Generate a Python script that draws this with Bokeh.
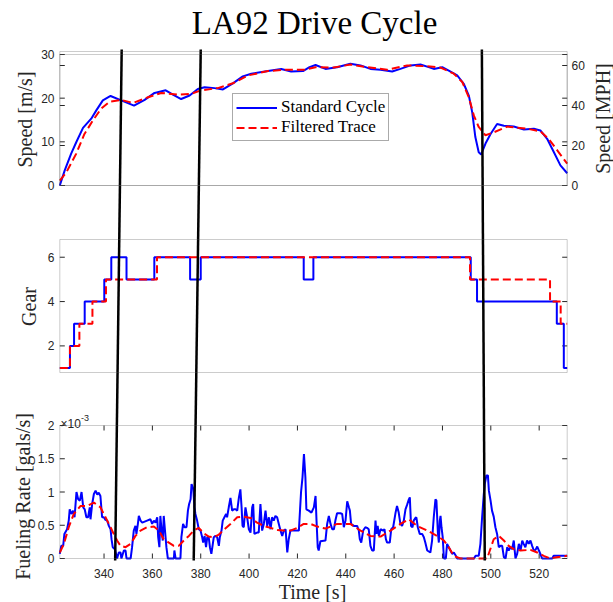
from math import pi
from bokeh.plotting import figure
from bokeh.models import Range1d, BoxAnnotation, Label, Legend, LegendItem
from bokeh.core.properties import value
from bokeh.embed import file_html
from bokeh.resources import INLINE

# ---------------- data ----------------
T0, T1 = 321.7, 531.6
time_ticks = [340, 360, 380, 400, 420, 440, 460, 480, 500, 520]

speed_t = [321.7, 323.7, 326.4, 328.5, 331.3, 334.7, 336.8, 339.5, 342.7, 347.1, 352.4, 356.8,
           360.9, 365.5, 368.5, 371.9, 375.4, 378.8, 381.6, 385.7, 389.2, 393.3, 397.4, 400.9,
           407.8, 413.3, 417.4, 422.3, 425.0, 427.5, 431.6, 436.4, 441.9, 446.1, 450.2, 454.4,
           459.2, 462.6, 466.8, 470.9, 474.3, 476.4, 479.9, 482.6, 486.1, 488.8, 490.9, 492.3,
           493.6, 495.0, 496.0, 497.8, 499.9, 502.6, 505.4, 509.5, 513.7, 517.8, 520.5, 523.3,
           526.1, 528.8, 531.6]
speed_std = [0.0, 3.4, 7.3, 9.9, 13.2, 15.3, 17.2, 19.5, 20.5, 19.5, 18.3, 19.6,
             21.2, 21.8, 20.8, 19.8, 20.6, 22.1, 22.5, 22.3, 22.0, 23.4, 25.0, 25.6,
             26.2, 26.7, 26.1, 26.2, 27.1, 27.6, 26.7, 27.1, 27.9, 27.5, 26.7, 26.5,
             26.1, 26.7, 27.5, 27.7, 27.1, 26.7, 27.1, 26.3, 25.2, 23.3, 20.6, 16.8,
             11.1, 7.6, 7.1, 9.6, 11.8, 14.1, 13.7, 13.5, 12.8, 13.0, 12.6, 10.7,
             7.6, 4.6, 2.8]

filt_t = [321.7, 324.4, 328.5, 331.9, 335.4, 338.8, 342.3, 347.1, 352.0, 358.2, 363.7, 370.6,
          376.1, 380.2, 387.1, 393.3, 399.5, 407.8, 414.7, 423.0, 427.5, 435.0, 441.9, 448.9,
          457.1, 465.4, 473.7, 479.2, 484.7, 488.2, 490.9, 493.0, 495.0, 497.8, 501.3, 506.8,
          515.1, 520.5, 523.9, 528.1, 531.6]
speed_filt = [1.1, 3.0, 7.3, 11.8, 14.9, 17.6, 19.2, 19.6, 18.9, 20.2, 21.2, 20.8,
              21.0, 21.8, 22.3, 23.4, 25.2, 26.2, 26.5, 26.5, 27.1, 27.0, 27.7, 27.1,
              26.5, 27.5, 27.3, 27.0, 25.6, 23.7, 20.2, 16.0, 13.4, 11.5, 12.2, 13.5,
              13.0, 12.4, 10.7, 7.6, 5.0]

gear_t = [321.7, 325.9, 327.6, 332.0, 340.1, 343.0, 349.3, 360.8, 375.6, 380.0, 422.6,
          426.6, 491.7, 494.3, 527.3, 530.2, 531.6]
gear_std = [1, 2, 3, 4, 5, 6, 5, 6, 5, 6, 5, 6, 5, 4, 3, 1, 1]
gear_filt_t = [321.7, 325.9, 329.8, 335.2, 340.8, 361.9, 491.4, 524.5, 528.9, 531.6]
gear_filt = [1, 2, 3, 4, 5, 6, 5, 4, 3, 3]

# fueling rate, in units of 1e-3 gals/s : (time, rate)
fuel_std_pts = [
    (321.7, 0.07), (322.3, 0.19), (323.1, 0.19), (323.6, 0.37), (324.7, 0.44), (325.4, 0.57),
    (325.8, 0.74), (326.5, 0.67), (327.2, 0.72), (327.8, 0.62), (328.6, 1.00), (329.3, 0.89),
    (330.0, 0.87), (330.7, 1.00), (331.4, 0.77), (332.0, 0.74), (332.7, 0.62), (333.4, 0.62),
    (334.1, 0.77), (334.4, 0.59), (335.1, 0.82), (335.8, 0.97), (336.5, 1.02), (337.2, 0.96),
    (337.8, 0.99), (338.5, 0.94), (339.2, 0.62), (339.9, 0.62), (340.6, 0.58), (341.3, 0.57),
    (342.0, 0.49), (342.7, 0.44), (343.1, 0.29), (343.6, 0.17), (344.5, 0.14), (345.4, 0.0),
    (346.1, 0.09), (346.8, 0.09), (347.2, 0.0), (348.2, 0.12), (348.9, 0.12), (349.3, 0.0),
    (351.0, 0.0), (351.6, 0.17), (352.3, 0.42), (353.0, 0.49), (353.4, 0.37), (354.0, 0.52),
    (354.4, 0.64), (355.1, 0.57), (355.8, 0.54), (357.8, 0.57), (359.2, 0.59), (359.9, 0.52),
    (360.6, 0.57), (361.3, 0.54), (362.0, 0.62), (362.4, 0.32), (362.9, 0.17), (363.3, 0.64),
    (363.8, 0.42), (364.3, 0.27), (364.7, 0.64), (365.1, 0.47), (365.8, 0.17), (366.4, 0.0),
    (368.9, 0.0), (369.1, 0.12), (369.6, 0.0), (371.6, 0.0), (372.0, 0.32), (372.7, 0.52),
    (373.3, 0.47), (374.1, 0.47), (374.7, 0.72), (375.2, 0.82), (375.8, 0.89), (376.2, 1.12),
    (376.9, 1.05), (377.4, 0.77), (377.8, 0.67), (378.5, 0.57), (379.2, 0.44), (379.9, 0.42),
    (380.6, 0.32), (381.0, 0.24), (381.6, 0.34), (382.2, 0.17), (382.7, 0.32), (383.3, 0.32),
    (383.8, 0.17), (384.4, 0.07), (385.0, 0.22), (385.4, 0.32), (386.1, 0.34), (386.8, 0.32),
    (387.5, 0.19), (387.9, 0.32), (388.6, 0.42), (389.1, 0.57), (389.8, 0.62), (390.5, 0.67),
    (390.9, 0.62), (391.6, 0.77), (392.3, 0.91), (393.0, 0.72), (393.7, 0.74), (394.4, 0.74),
    (395.1, 0.72), (395.8, 0.92), (396.4, 1.04), (396.9, 0.77), (397.3, 0.49), (397.8, 0.47),
    (398.5, 0.77), (399.2, 0.62), (399.9, 0.44), (400.6, 0.39), (401.3, 0.77), (401.7, 0.82),
    (402.2, 0.37), (403.3, 0.39), (404.0, 0.39), (404.7, 0.82), (405.4, 0.42), (406.1, 0.52),
    (406.8, 0.72), (407.5, 0.49), (408.2, 0.62), (408.9, 0.44), (409.5, 0.62), (410.2, 0.57),
    (410.9, 0.64), (411.6, 0.62), (412.3, 0.52), (413.0, 0.42), (413.7, 0.34), (414.4, 0.42),
    (415.1, 0.44), (415.8, 0.09), (416.4, 0.29), (417.1, 0.42), (418.5, 0.42), (420.6, 0.42),
    (421.5, 1.00), (422.1, 1.22), (422.7, 1.57), (423.3, 1.22), (423.7, 0.74), (424.7, 0.72),
    (425.8, 0.69), (426.8, 0.77), (427.5, 0.94), (427.9, 0.57), (428.4, 0.17), (428.8, 0.12),
    (429.5, 0.26), (431.6, 0.27), (432.3, 0.52), (433.0, 0.64), (433.7, 0.52), (434.4, 0.44),
    (435.1, 0.44), (435.7, 0.57), (436.4, 0.68), (437.8, 0.68), (438.5, 0.67), (439.2, 0.47),
    (439.9, 0.57), (440.6, 0.86), (441.3, 0.77), (441.7, 0.72), (442.2, 0.52), (443.3, 0.49),
    (444.7, 0.49), (445.4, 0.42), (445.8, 0.29), (446.4, 0.24), (447.2, 0.42), (448.1, 0.47),
    (448.8, 0.46), (449.5, 0.44), (450.2, 0.19), (450.9, 0.12), (451.6, 0.12), (452.3, 0.57),
    (452.7, 0.37), (453.2, 0.49), (453.7, 0.34), (454.4, 0.44), (455.5, 0.42), (456.0, 0.44),
    (456.6, 0.29), (457.1, 0.24), (458.2, 0.24), (458.8, 0.44), (459.6, 0.47), (460.6, 0.69),
    (461.2, 0.79), (461.9, 0.69), (462.6, 0.52), (463.3, 0.49), (464.0, 0.57), (464.7, 0.74),
    (465.4, 0.81), (466.1, 0.89), (466.5, 0.92), (467.0, 0.49), (467.6, 0.47), (468.1, 0.57),
    (468.8, 0.61), (469.2, 0.62), (469.8, 0.47), (470.6, 0.37), (471.6, 0.37), (472.3, 0.32),
    (472.9, 0.24), (473.7, 0.12), (475.0, 0.09), (475.7, 0.27), (476.4, 0.62), (477.1, 0.89),
    (477.5, 0.87), (478.1, 0.39), (478.5, 0.24), (478.9, 0.57), (479.2, 0.64), (479.6, 0.47),
    (480.1, 0.32), (480.6, 0.0), (481.4, 0.0), (481.9, 0.22), (482.6, 0.17), (483.3, 0.12),
    (484.0, 0.07), (484.7, 0.09), (485.4, 0.05), (486.1, 0.0), (493.0, 0.0), (493.7, 0.04),
    (495.0, 0.04), (495.7, 0.22), (496.4, 0.62), (497.1, 0.97), (497.5, 1.12), (498.2, 1.25),
    (498.8, 1.25), (499.2, 1.02), (499.9, 0.87), (500.5, 0.72), (501.2, 0.63), (501.9, 0.47),
    (502.6, 0.37), (503.3, 0.17), (504.0, 0.19), (504.7, 0.19), (505.4, 0.02), (506.1, 0.0),
    (506.8, 0.17), (507.4, 0.12), (508.1, 0.17), (508.8, 0.14), (509.5, 0.27), (510.2, 0.0),
    (510.9, 0.07), (511.6, 0.22), (512.3, 0.12), (513.0, 0.27), (513.6, 0.22), (514.3, 0.17),
    (515.0, 0.27), (515.7, 0.22), (516.4, 0.27), (517.1, 0.19), (517.8, 0.12), (518.5, 0.13),
    (519.2, 0.18), (519.9, 0.12), (520.5, 0.07), (521.2, 0.0), (525.4, 0.0), (526.0, 0.04),
    (531.6, 0.04)]
fuel_t = [a for a, _ in fuel_std_pts]
fuel_std = [b for _, b in fuel_std_pts]

fuel_filt_t = [321.7, 323.4, 325.4, 327.5, 330.3, 333.0, 335.8, 338.5, 340.6, 342.7, 344.0,
               345.4, 346.8, 348.9, 351.0, 353.0, 355.1, 357.8, 360.6, 362.7, 364.7, 366.8,
               368.9, 370.9, 373.0, 375.1, 377.1, 379.2, 381.3, 383.3, 385.4, 387.5, 389.5,
               392.3, 395.1, 397.8, 400.6, 403.3, 406.1, 408.9, 411.6, 414.4, 417.1, 419.9,
               422.6, 425.4, 428.2, 431.6, 436.4, 441.9, 446.1, 450.2, 454.4, 458.5, 462.6,
               466.1, 469.5, 473.7, 477.8, 480.6, 482.6, 484.7, 487.4, 498.5, 499.6, 501.2,
               503.3, 505.4, 507.4, 509.5, 512.3, 516.4, 519.2, 521.9, 524.7, 527.4, 531.6]
fuel_filt = [0.09, 0.22, 0.47, 0.67, 0.79, 0.79, 0.84, 0.77, 0.62, 0.47, 0.37,
             0.27, 0.19, 0.17, 0.22, 0.34, 0.42, 0.47, 0.48, 0.42, 0.29, 0.24,
             0.19, 0.19, 0.27, 0.34, 0.42, 0.46, 0.38, 0.33, 0.32, 0.36, 0.43,
             0.52, 0.62, 0.63, 0.61, 0.54, 0.49, 0.46, 0.43, 0.42, 0.42, 0.46,
             0.52, 0.52, 0.48, 0.45, 0.52, 0.52, 0.42, 0.34, 0.33, 0.42, 0.52,
             0.59, 0.49, 0.42, 0.34, 0.27, 0.17, 0.04, 0.0, 0.0, 0.12, 0.29,
             0.34, 0.27, 0.19, 0.14, 0.12, 0.13, 0.09, 0.04, 0.0, 0.02, 0.04]

# slanted marker lines across all panels (time at their top / bottom ends)
shift_top_t = [347.3, 380.0, 496.3]
shift_bottom_t = [344.6, 377.1, 497.5]

speed_ticks = [0, 10, 20, 30]
mph_ticks = [0, 20, 40, 60]
gear_ticks = [2, 4, 6]
fuel_ticks = [0, 0.5, 1, 1.5, 2]
fuel_tick_labels = ["0", "0.5", "1", "1.5", "2"]

SPEED_LIM = (0, 30)
MPH_LIM = (0, 67)
GEAR_LIM = (0.8, 6.8)
FUEL_LIM = (0, 2)

# ---------------- layout (page pixels) ----------------
W, H = 613, 602
AX_L, AX_R = 59.3, 566.7                       # time axis extent
PANELS = {"speed": (54, 185), "mph": (51, 185), "gear": (239, 372), "fuel": (425, 558)}
LIMS = {"speed": SPEED_LIM, "mph": MPH_LIM, "gear": GEAR_LIM, "fuel": FUEL_LIM}

KX = (T1 - T0) / (AX_R - AX_L)                 # seconds per pixel
XS = T0 - AX_L * KX

def X(px):
    return XS + px * KX

def Y(py):
    return (H - py) / H

def panel_range(name):
    ytop, ybot = PANELS[name]
    lo, hi = LIMS[name]
    fb, ft = Y(ybot), Y(ytop)
    span = (hi - lo) / (ft - fb)
    start = lo - fb * span
    return Range1d(start, start + span)

def px_to_units(name, npx):
    ytop, ybot = PANELS[name]
    lo, hi = LIMS[name]
    return (hi - lo) * npx / (ybot - ytop)

AX = "#262626"
BOX = "#555555"
SERIF = "Liberation Serif"
SANS = "Liberation Sans"
BLUE, RED = "#0000ff", "#ff0000"
DASH = "8 4"
TICK = 5

p = figure(width=W, height=H, output_backend="svg", toolbar_location=None,
           x_range=Range1d(XS, XS + W * KX), y_range=Range1d(0, 1),
           x_axis_type=None, y_axis_type=None,
           min_border_left=0, min_border_right=0, min_border_top=0, min_border_bottom=0)
p.title.visible = False
p.extra_y_ranges = {name: panel_range(name) for name in PANELS}
p.outline_line_color = None
p.background_fill_color = "white"
p.border_fill_color = "white"

# panel boxes (speed panel has both the m/s and the MPH box)
for name in ("mph", "speed", "gear", "fuel"):
    lo, hi = LIMS[name]
    p.add_layout(BoxAnnotation(left=T0, right=T1, bottom=lo, top=hi, y_range_name=name,
                               fill_color=None, fill_alpha=0, line_color=BOX, line_width=1))

# inward y ticks on both sides
def yticks(name, ticks):
    n = len(ticks)
    p.segment(x0=[T0] * n, y0=ticks, x1=[T0 + TICK * KX] * n, y1=ticks,
              y_range_name=name, line_color=AX, line_width=1)
    p.segment(x0=[T1] * n, y0=ticks, x1=[T1 - TICK * KX] * n, y1=ticks,
              y_range_name=name, line_color=AX, line_width=1)

yticks("speed", speed_ticks)
yticks("mph", mph_ticks)
yticks("gear", gear_ticks)
yticks("fuel", fuel_ticks)

# inward time ticks on bottom and top of the fueling panel
nt = len(time_ticks)
flo, fhi = FUEL_LIM
tl = px_to_units("fuel", TICK)
p.segment(x0=time_ticks, y0=[flo] * nt, x1=time_ticks, y1=[flo + tl] * nt,
          y_range_name="fuel", line_color=AX, line_width=1)
p.segment(x0=time_ticks, y0=[fhi] * nt, x1=time_ticks, y1=[fhi - tl] * nt,
          y_range_name="fuel", line_color=AX, line_width=1)

# tick labels
def left_labels(name, ticks, labels):
    p.text(x=[X(54)] * len(ticks), y=ticks, text=labels, y_range_name=name,
           text_font=value(SANS), text_font_size="12px", text_color=AX,
           text_align="right", text_baseline="middle")

left_labels("speed", speed_ticks, [str(v) for v in speed_ticks])
left_labels("gear", gear_ticks, [str(v) for v in gear_ticks])
left_labels("fuel", fuel_ticks, fuel_tick_labels)
p.text(x=[X(571)] * len(mph_ticks), y=mph_ticks, text=[str(v) for v in mph_ticks],
       y_range_name="mph", text_font=value(SANS), text_font_size="12px", text_color=AX,
       text_align="left", text_baseline="middle")
p.text(x=time_ticks, y=[Y(568.5)] * nt, text=[str(v) for v in time_ticks],
       text_font=value(SANS), text_font_size="12px", text_color=AX,
       text_align="center", text_baseline="top")

# data
r_std = p.line(speed_t, speed_std, y_range_name="speed", line_color=BLUE, line_width=2)
r_flt = p.line(filt_t, speed_filt, y_range_name="speed", line_color=RED, line_width=2,
               line_dash=DASH)
p.step(gear_t, gear_std, mode="after", y_range_name="gear", line_color=BLUE, line_width=2)
p.step(gear_filt_t, gear_filt, mode="after", y_range_name="gear", line_color=RED,
       line_width=2, line_dash=DASH)
p.line(fuel_t, fuel_std, y_range_name="fuel", line_color=BLUE, line_width=2)
p.line(fuel_filt_t, fuel_filt, y_range_name="fuel", line_color=RED, line_width=2,
       line_dash=DASH)

# slanted black lines through all panels
ns = len(shift_top_t)
p.segment(x0=shift_top_t, y0=[Y(49)] * ns, x1=shift_bottom_t, y1=[Y(560)] * ns,
          line_color="black", line_width=2.5)

# legend
legend = Legend(items=[LegendItem(label="Standard Cycle", renderers=[r_std]),
                       LegendItem(label="Filtered Trace", renderers=[r_flt])],
                location=(232, H - 141))
legend.border_line_color = BOX
legend.border_line_width = 1
legend.background_fill_color = "white"
legend.background_fill_alpha = 1
legend.label_text_font = SERIF
legend.label_text_font_size = "17px"
legend.label_text_color = "black"
legend.glyph_width = 41
legend.glyph_height = 19
legend.label_height = 19
legend.label_standoff = 4
legend.padding = 3
legend.spacing = 0
legend.margin = 0
p.add_layout(legend)

# texts
def label(px, py, text, size, color=AX, angle=0.0, align="center", baseline="middle",
          font=SERIF):
    p.add_layout(Label(x=X(px), y=Y(py), text=text, angle=angle, text_font=font,
                       text_font_size=size, text_color=color, text_align=align,
                       text_baseline=baseline))

label(314, 22, "LA92 Drive Cycle", "33px", color="black")
label(312, 591, "Time [s]", "20px")
label(24, 119, "Speed [m/s]", "20px", angle=pi / 2)
label(602, 118, "Speed [MPH]", "20px", angle=pi / 2)
label(28, 306, "Gear", "20px", angle=pi / 2)
label(22, 496, "Fueling Rate [gals/s]", "20px", angle=pi / 2)
label(60, 423, "\u00d710", "12px", align="left", baseline="alphabetic", font=SANS)
label(80.5, 417, "-3", "9px", align="left", baseline="alphabetic", font=SANS)

open("out.html", "w").write(file_html(p, INLINE))
